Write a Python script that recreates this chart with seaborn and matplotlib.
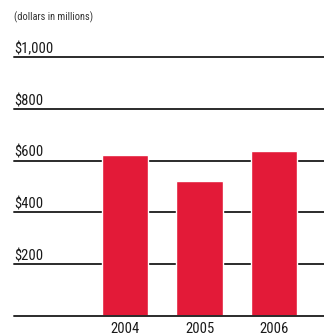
import matplotlib
matplotlib.use("Agg")
import matplotlib.pyplot as plt
import seaborn as sns
import pandas as pd

years = ["2004", "2005", "2006"]
values = [623, 523, 638]
grid_values = [200, 400, 600, 800, 1000]
grid_labels = ["$200", "$400", "$600", "$800", "$1,000"]
subtitle = "(dollars in millions)"

sns.set_style("white")
plt.rcParams["font.family"] = ["Roboto Condensed", "DejaVu Sans"]

fig = plt.figure(figsize=(3.24, 3.35), dpi=100)
ax = fig.add_axes([14/324, 19/335, 310/324, (316-57)/335])

df = pd.DataFrame({"year": years, "value": values})
sns.barplot(data=df, x="year", y="value", color="#E31A38", saturation=1,
            width=0.62, ax=ax, zorder=3)

ax.set_xlim(-1.49, 2.67)
ax.set_ylim(0, 1000)
for v, lab in zip(grid_values, grid_labels):
    ax.axhline(v, color="#2b2b2b", lw=1.4, zorder=2, clip_on=False)
    ax.annotate(lab, xy=(0, v), xycoords=ax.get_yaxis_transform(),
                xytext=(0, 2.6), textcoords="offset points",
                ha="left", va="baseline", fontsize=10.5, color="#1a1a1a")
ax.axhline(0, color="#2b2b2b", lw=1.4, zorder=4, clip_on=False)

for s in ax.spines.values():
    s.set_visible(False)
ax.set_yticks([])
ax.set_xlabel("")
ax.set_ylabel("")
ax.tick_params(axis="x", length=0, pad=4, labelsize=10.5, labelcolor="#1a1a1a")

fig.text(14/324, 1 - 17/335, subtitle, ha="left", va="center", fontsize=7.5, color="#333333")

fig.savefig("out.png", dpi=100)
